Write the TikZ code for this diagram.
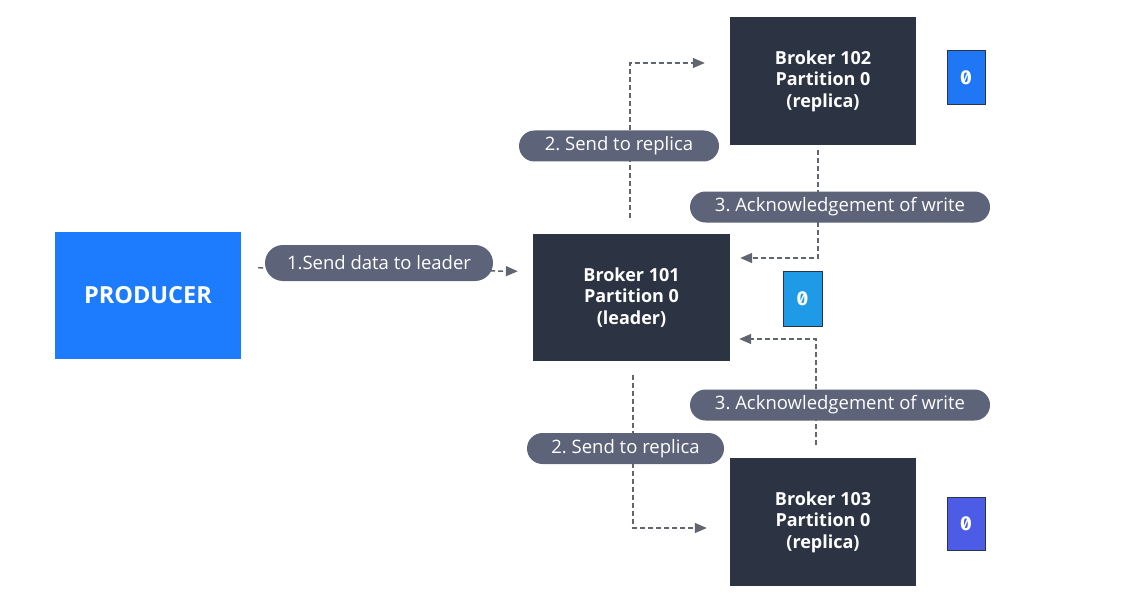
\documentclass[tikz,border=0pt]{standalone}
\usepackage{fontspec}
\setmainfont{Open Sans}
\newfontfamily\zerofont[RawFeature=+zero]{Fira Sans}
\usetikzlibrary{arrows.meta}
\frenchspacing

\definecolor{boxdark}{HTML}{2C3444}
\definecolor{pillgray}{HTML}{5D6479}
\definecolor{linegray}{HTML}{60656F}
\definecolor{prodblue}{HTML}{1C7CFD}
\definecolor{partA}{HTML}{1F77F5}
\definecolor{partB}{HTML}{1E9AE6}
\definecolor{partC}{HTML}{4C5CE6}

\tikzset{
 broker/.style={fill=boxdark, text=white, font=\bfseries\fontsize{18}{21.5}\selectfont,
   align=center, inner sep=0pt, minimum width=186pt, minimum height=128pt},
 pill/.style={fill=pillgray, text=white, font=\fontsize{18.5}{20}\selectfont,
   rounded corners=15.5pt, inner sep=0pt, minimum height=31pt},
 part/.style={draw=boxdark, line width=1pt, text=white, inner sep=0pt,
   minimum width=38pt, minimum height=54pt, font=\zerofont\bfseries\fontsize{20}{22}\selectfont},
 flow/.style={draw=linegray, line width=1.5pt, dash pattern=on 5pt off 3pt,
   -{Triangle[length=12pt,width=10pt]}}
}

\begin{document}
\begin{tikzpicture}[x=1pt,y=-1pt]
 \useasboundingbox (0,0) rectangle (1123,604);

 \node (prod) [fill=prodblue, text=white, font=\bfseries\fontsize{23.5}{26}\selectfont,
   inner sep=0pt, minimum width=186pt, minimum height=127pt] at (148,295.5) {PRODUCER};

 \node (b101) [broker, minimum width=197pt, minimum height=127pt] at (631.5,297.5) {Broker 101\\Partition 0\\(leader)};
 \node (b102) [broker] at (823,81) {Broker 102\\Partition 0\\(replica)};
 \node (b103) [broker] at (823,522) {Broker 103\\Partition 0\\(replica)};

 \node (p102) [part, fill=partA] at (966,78) {0};
 \node (p101) [part, fill=partB, minimum width=39pt, minimum height=55pt] at (802.5,298.5) {0};
 \node (p103) [part, fill=partC, minimum height=53pt] at (966,523.5) {0};

 \draw [flow, shorten <=17pt, shorten >=15pt] ([yshift=28pt]prod.east) -- ([yshift=26pt]b101.west);
 \draw [flow, shorten <=16pt, shorten >=25pt] ([xshift=-1.5pt]b101.north) |- ([yshift=18pt]b102.west);
 \draw [flow, shorten <=14pt, shorten >=23pt] ([xshift=1.5pt]b101.south) |- ([yshift=-6pt]b103.west);
 \draw [flow, shorten <=5pt, shorten >=10pt] ([xshift=-5pt]b102.south) |- ([yshift=39.5pt]b101.east);
 \draw [flow, shorten <=13pt, shorten >=9pt] ([xshift=-7pt]b103.north) |- ([yshift=-41.5pt]b101.east);

 \node (l1) [pill, minimum width=228pt, minimum height=36pt, rounded corners=18pt] at (379,263) {1.Send data to leader};
 \node (l2) [pill, minimum width=200pt] at (619,146) {2. Send to replica};
 \node (l3) [pill, minimum width=300pt] at (840,207) {3. Acknowledgement of write};
 \node (l4) [pill, minimum width=300pt] at (840,405) {3. Acknowledgement of write};
 \node (l5) [pill, minimum width=197pt] at (625.5,448.5) {2. Send to replica};

\end{tikzpicture}
\end{document}
